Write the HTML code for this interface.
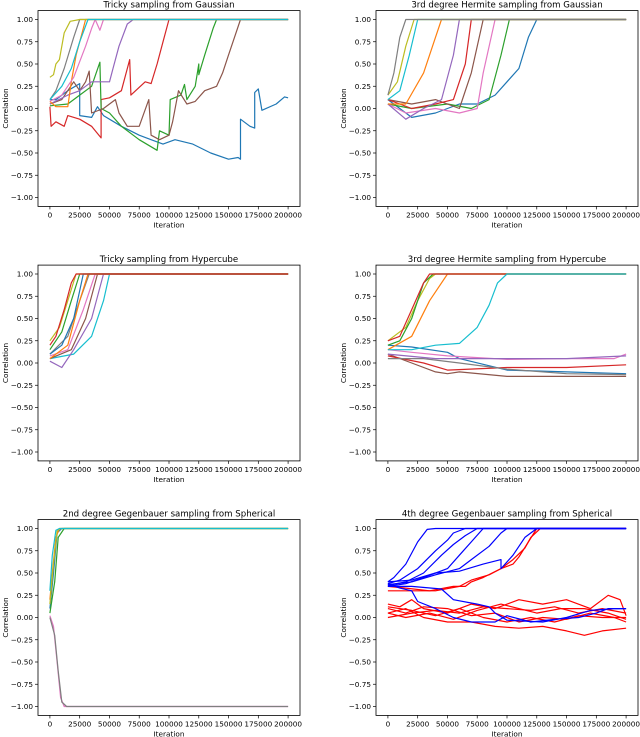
<!DOCTYPE html>
<html><head><meta charset="utf-8"><style>
html,body{margin:0;padding:0;background:#fff;}
svg{display:block;font-family:"DejaVu Sans","Liberation Sans",sans-serif;}
</style></head><body>
<svg id="fig" width="640" height="737" viewBox="0 0 640 737" xmlns="http://www.w3.org/2000/svg"></svg>
<script>
const yTicks=[-1,-0.75,-0.5,-0.25,0,0.25,0.5,0.75,1];
const yTickLabels=["\u22121.00","\u22120.75","\u22120.50","\u22120.25","0.00","0.25","0.50","0.75","1.00"];
const xTicks=[0,25,50,75,100,125,150,175,200];
const xTickLabels=["0","25000","50000","75000","100000","125000","150000","175000","200000"];
const titles=["Tricky sampling from Gaussian","3rd degree Hermite sampling from Gaussian","Tricky sampling from Hypercube","3rd degree Hermite sampling from Hypercube","2nd degree Gegenbauer sampling from Spherical","4th degree Gegenbauer sampling from Spherical"];
const tab=["#1f77b4","#ff7f0e","#2ca02c","#d62728","#9467bd","#8c564b","#e377c2","#7f7f7f","#bcbd22","#17becf"];
// panel 1 series (x in thousands of iterations)
const p1Blue=[[0,0.1],[5,0.1],[15,0.2],[25,0.28],[25,-0.08],[35,-0.1],[40,0.02],[45,-0.08],[60,-0.2],[75,-0.3],[85,-0.35],[95,-0.4],[105,-0.35],[120,-0.4],[135,-0.5],[150,-0.57],[158,-0.55],[160,-0.57],[160,-0.12],[168,-0.2],[172,-0.22],[172,0.18],[175,0.22],[178,-0.02],[190,0.05],[197,0.13],[200,0.12]];
const p1Red=[[0,0.02],[1,-0.2],[5,-0.15],[12,-0.2],[15,-0.08],[25,-0.12],[35,-0.2],[43,-0.33],[43,0.1],[50,0.12],[60,0.2],[67,0.55],[68,0.15],[80,0.3],[85,0.28],[90,0.5],[95,0.75],[100,1],[200,1]];
const p1Green=[[0,0.03],[15,0.05],[25,0.15],[35,0.25],[42,0.52],[43,0.0],[50,-0.05],[60,-0.2],[75,-0.35],[90,-0.47],[92,-0.25],[100,-0.3],[101,0.1],[110,0.15],[113,0.27],[115,0.1],[122,0.25],[125,0.5],[125,0.38],[130,0.6],[137,0.9],[140,1],[200,1]];
const p1Brown=[[0,0.05],[10,0.1],[20,0.3],[25,0.2],[30,0.3],[33,0.42],[35,-0.05],[45,0],[50,0.05],[55,0.1],[58,-0.05],[65,-0.2],[75,-0.2],[83,0.1],[85,-0.3],[92,-0.35],[100,-0.3],[103,-0.15],[108,0.2],[115,0.05],[122,0.08],[130,0.2],[140,0.25],[145,0.4],[150,0.6],[155,0.8],[160,1],[200,1]];
const p1Purple=[[0,0.05],[15,0.15],[25,0.2],[35,0.3],[45,0.3],[50,0.3],[53,0.45],[58,0.7],[65,0.95],[70,1],[200,1]];
const p1Orange=[[0,0.08],[5,0.02],[15,0.02],[18,0.3],[22,0.6],[27,0.85],[30,1],[200,1]];
const p1Pink=[[0,0.08],[10,0.15],[20,0.35],[30,0.7],[35,0.9],[38,1],[42,0.88],[45,1],[200,1]];
const p1Gray=[[0,0.1],[5,0.2],[12,0.45],[20,0.8],[25,1],[200,1]];
const p1Olive=[[0,0.35],[3,0.38],[5,0.5],[8,0.55],[12,0.85],[17,0.98],[25,1],[200,1]];
const p1Cyan=[[0,0.1],[10,0.25],[18,0.45],[25,0.75],[32,1],[200,1]];
// panel 2
const p2Gray=[[0,0.15],[5,0.4],[10,0.8],[15,1],[200,1]];
const p2Olive=[[0,0.15],[8,0.3],[15,0.7],[22,1],[200,1]];
const p2Cyan=[[0,0.1],[10,0.2],[18,0.6],[25,1],[200,1]];
const p2Orange=[[0,0.05],[15,0.05],[30,0.4],[40,0.8],[45,1],[200,1]];
const p2Purple=[[0,0.05],[15,-0.12],[30,0.0],[45,0.1],[55,0.6],[60,1],[200,1]];
const p2Red=[[0,0.1],[20,0.0],[40,0.05],[55,0.1],[65,0.5],[70,1],[200,1]];
const p2Brown=[[0,0.1],[20,0.05],[40,0.1],[60,0.0],[70,0.4],[80,1],[200,1]];
const p2Pink=[[0,0.05],[15,-0.05],[40,0.0],[60,-0.05],[75,0.0],[80,0.4],[90,1],[200,1]];
const p2Green=[[0,0.05],[20,0.0],[50,0.05],[70,0.0],[85,0.1],[95,0.6],[102,1],[200,1]];
const p2Blue=[[0,0.1],[10,0.0],[20,-0.1],[40,-0.05],[60,0.05],[75,0.05],[90,0.15],[100,0.3],[110,0.45],[118,0.8],[125,1],[200,1]];
// panel 3
const p3Red=[[0,0.2],[5,0.3],[12,0.6],[18,0.9],[22,1],[200,1]];
const p3Olive=[[0,0.25],[8,0.4],[15,0.7],[22,1],[200,1]];
const p3Green=[[0,0.15],[10,0.35],[18,0.7],[25,1],[200,1]];
const p3Blue=[[0,0.1],[10,0.2],[20,0.5],[28,1],[200,1]];
const p3Orange=[[0,0.05],[15,0.2],[25,0.7],[32,1],[200,1]];
const p3Gray=[[0,0.1],[15,0.3],[25,0.7],[33,1],[200,1]];
const p3Pink=[[0,0.08],[15,0.15],[28,0.6],[38,1],[200,1]];
const p3Brown=[[0,0.05],[18,0.15],[30,0.5],[40,1],[200,1]];
const p3Purple=[[0,0.02],[10,-0.05],[20,0.15],[35,0.5],[45,1],[200,1]];
const p3Cyan=[[0,0.05],[20,0.1],[35,0.3],[45,0.7],[50,1],[200,1]];
// panel 4
const p4RedTop=[[0,0.25],[10,0.3],[20,0.6],[30,0.9],[35,1],[200,1]];
const p4Green=[[0,0.2],[10,0.25],[20,0.5],[30,0.9],[38,1],[200,1]];
const p4Olive=[[0,0.25],[15,0.4],[25,0.7],[35,0.95],[40,1],[200,1]];
const p4Orange=[[0,0.15],[20,0.3],[35,0.7],[50,1],[200,1]];
const p4Cyan=[[0,0.15],[20,0.15],[40,0.2],[60,0.22],[75,0.4],[85,0.65],[92,0.9],[100,1],[200,1]];
const p4Blue=[[0,0.2],[20,0.18],[50,0.12],[60,0.05],[100,-0.08],[150,-0.1],[200,-0.12]];
const p4Pink=[[0,0.15],[20,0.12],[50,0.08],[100,0.04],[150,0.05],[190,0.05],[200,0.1]];
const p4Brown=[[0,0.1],[20,0.0],[40,-0.1],[50,-0.12],[60,-0.1],[100,-0.15],[150,-0.15],[200,-0.15]];
const p4Red=[[0,0.08],[30,0.0],[50,-0.08],[100,-0.05],[150,-0.05],[200,-0.02]];
const p4Gray=[[0,0.05],[30,0.05],[60,0.0],[100,-0.07],[150,-0.12],[200,-0.13]];
const p4Purple=[[0,0.1],[40,0.05],[100,0.05],[150,0.05],[200,0.08]];
// panel 5
const p5A=[[0,0.1],[3,0.5],[6,0.95],[10,1],[200,1]];
const p5B=[[0,0.2],[2,0.5],[5,0.9],[8,1],[200,1]];
const p5C=[[0,0.05],[4,0.4],[7,0.9],[12,1],[200,1]];
const p5D=[[0,0.15],[3,0.6],[6,0.97],[9,1],[200,1]];
const p5E=[[0,0.3],[2,0.7],[5,0.98],[8,1],[200,1]];
const p5Pink=[[0,0.02],[3,-0.1],[6,-0.5],[9,-0.9],[12,-1],[200,-1]];
const p5Gray=[[0,0.0],[4,-0.2],[7,-0.6],[10,-0.95],[14,-1],[200,-1]];
// panel 6
const p6B1=[[0,0.4],[5,0.45],[15,0.6],[25,0.85],[33,0.99],[40,1],[200,1]];
const p6B2=[[0,0.38],[10,0.42],[25,0.55],[40,0.75],[50,0.87],[55,0.95],[65,1],[200,1]];
const p6B3=[[0,0.36],[15,0.4],[30,0.5],[45,0.7],[55,0.82],[65,0.92],[75,1],[200,1]];
const p6B4=[[0,0.35],[15,0.38],[30,0.45],[50,0.55],[60,0.7],[70,0.85],[80,1],[200,1]];
const p6B5=[[0,0.37],[20,0.4],[40,0.48],[60,0.55],[70,0.65],[85,0.8],[95,0.95],[100,1],[200,1]];
const p6B6=[[0,0.4],[20,0.42],[40,0.5],[60,0.52],[80,0.6],[95,0.65],[95,0.55],[105,0.7],[115,0.9],[125,1],[200,1]];
const p6B7=[[0,0.38],[10,0.33],[20,0.3],[25,0.18],[40,0.1],[55,0.0],[70,-0.05],[90,-0.05],[100,0.02],[120,-0.05],[140,-0.02],[160,0.0],[175,0.05],[185,0.1],[200,0.1]];
const p6B8=[[0,0.35],[20,0.35],[45,0.32],[55,0.2],[75,0.15],[85,0.12],[90,0.05],[100,-0.03],[130,-0.05],[150,0.0],[170,0.08],[190,0.1],[200,0.1]];
const p6R1=[[0,0.35],[15,0.33],[35,0.3],[55,0.35],[65,0.35],[70,0.4],[80,0.45],[95,0.55],[105,0.65],[115,0.78],[120,0.9],[128,1],[200,1]];
const p6R2=[[0,0.3],[20,0.3],[40,0.3],[60,0.35],[70,0.42],[85,0.48],[95,0.55],[105,0.6],[110,0.68],[118,0.85],[125,1],[200,1]];
const p6R3=[[0,0.15],[10,0.12],[20,0.2],[30,0.1],[50,0.05],[70,0.15],[90,0.1],[110,0.2],[130,0.15],[150,0.2],[170,0.1],[185,0.25],[195,0.2],[200,0.02]];
const p6R4=[[0,0.1],[15,0.05],[30,0.12],[50,0.1],[70,0.02],[90,0.05],[110,-0.05],[130,0.0],[150,-0.02],[170,0.05],[190,0.0],[200,-0.05]];
const p6R5=[[0,0.05],[15,0.1],[30,0.0],[50,-0.05],[70,-0.05],[90,-0.1],[110,-0.12],[130,-0.1],[150,-0.15],[165,-0.2],[180,-0.15],[200,-0.12]];
const p6R6=[[0,0.0],[20,0.05],[40,0.08],[60,0.05],[80,0.12],[100,0.1],[120,0.08],[140,0.12],[160,0.05],[180,0.1],[200,0.05]];
const p6R7=[[0,0.12],[20,0.08],[40,0.02],[60,0.1],[80,0.0],[100,-0.05],[120,0.0],[140,-0.05],[160,0.02],[180,0.0],[200,0.0]];
const p6R8=[[0,0.05],[15,0.0],[35,0.05],[55,-0.02],[75,0.08],[95,0.15],[110,0.1],[125,0.05],[145,0.1],[165,0.1],[185,0.05],[200,-0.02]];

const panels=[
 {series:[p1Blue,p1Red,p1Green,p1Brown,p1Purple,p1Orange,p1Pink,p1Gray,p1Olive,p1Cyan],colors:[tab[0],tab[3],tab[2],tab[5],tab[4],tab[1],tab[6],tab[7],tab[8],tab[9]]},
 {series:[p2Blue,p2Green,p2Pink,p2Brown,p2Red,p2Purple,p2Orange,p2Cyan,p2Olive,p2Gray],colors:[tab[0],tab[2],tab[6],tab[5],tab[3],tab[4],tab[1],tab[9],tab[8],tab[7]]},
 {series:[p3Cyan,p3Purple,p3Brown,p3Pink,p3Gray,p3Orange,p3Blue,p3Green,p3Olive,p3Red],colors:[tab[9],tab[4],tab[5],tab[6],tab[7],tab[1],tab[0],tab[2],tab[8],tab[3]]},
 {series:[p4Blue,p4Pink,p4Brown,p4Red,p4Gray,p4Purple,p4Orange,p4Olive,p4Green,p4RedTop,p4Cyan],colors:[tab[0],tab[6],tab[5],tab[3],tab[7],tab[4],tab[1],tab[8],tab[2],tab[3],tab[9]]},
 {series:[p5A,p5B,p5C,p5D,p5E,p5Pink,p5Gray],colors:[tab[0],tab[1],tab[2],tab[8],tab[9],tab[6],tab[7]]},
 {series:[p6R3,p6R4,p6R5,p6R6,p6R7,p6R8,p6R1,p6R2,p6B7,p6B8,p6B1,p6B2,p6B3,p6B4,p6B5,p6B6],colors:["#f00","#f00","#f00","#f00","#f00","#f00","#f00","#f00","#00f","#00f","#00f","#00f","#00f","#00f","#00f","#00f"]}
];
const NS="http://www.w3.org/2000/svg";
const svg=document.getElementById('fig');
function mk(tag,attrs,parent){const e=document.createElementNS(NS,tag);for(const k in attrs)e.setAttribute(k,attrs[k]);(parent||svg).appendChild(e);return e;}
const lefts=[38,376],tops=[10.6,265.1,519.6],W=262,H=195.8;
panels.forEach((p,i)=>{
 const L=lefts[i%2],T=tops[Math.floor(i/2)];
 const g=mk('g',{});
 
 
 const xs=v=>L+W*(v+10)/220;
 const ys=v=>T+H*(1.1-v)/2.2;
 const t=mk('text',{x:L+W/2,y:T-3,'text-anchor':'middle','font-size':'8.6',fill:'#000'},g);t.textContent=titles[i];
 
 
 p.series.forEach((s,j)=>{
  const pl=mk('polyline',{points:s.map(q=>xs(q[0]).toFixed(1)+','+ys(q[1]).toFixed(1)).join(' '),fill:'none',stroke:p.colors[j],'stroke-width':'1.2','stroke-linejoin':'round'},g);
  
  
 });
 const fr=mk('rect',{x:L,y:T,width:W,height:H,fill:'none',stroke:'#000','stroke-width':'0.8'},g);
 
 
 yTicks.forEach((v,k)=>{
  mk('line',{x1:L-3,x2:L,y1:ys(v),y2:ys(v),stroke:'#000','stroke-width':'0.7'},g);
  const tl=mk('text',{x:L-5,y:ys(v)+2.6,'text-anchor':'end','font-size':'7.3',fill:'#000'},g);tl.textContent=yTickLabels[k];
  
  
 });
 xTicks.forEach((v,k)=>{
  mk('line',{x1:xs(v),x2:xs(v),y1:T+H,y2:T+H+3,stroke:'#000','stroke-width':'0.7'},g);
  const tl=mk('text',{x:xs(v),y:T+H+11,'text-anchor':'middle','font-size':'7.3',fill:'#000'},g);tl.textContent=xTickLabels[k];
  
  
 });
 const xl=mk('text',{x:L+W/2,y:T+H+21,'text-anchor':'middle','font-size':'7.3',fill:'#000'},g);xl.textContent='Iteration';
 
 
 const yx=L-30,yy=T+H/2;
 const yl=mk('text',{x:yx,y:yy,'text-anchor':'middle','font-size':'7.3',fill:'#000',transform:'rotate(-90 '+yx+' '+yy+')'},g);yl.textContent='Correlation';
 
 
});
</script>
</body></html>
